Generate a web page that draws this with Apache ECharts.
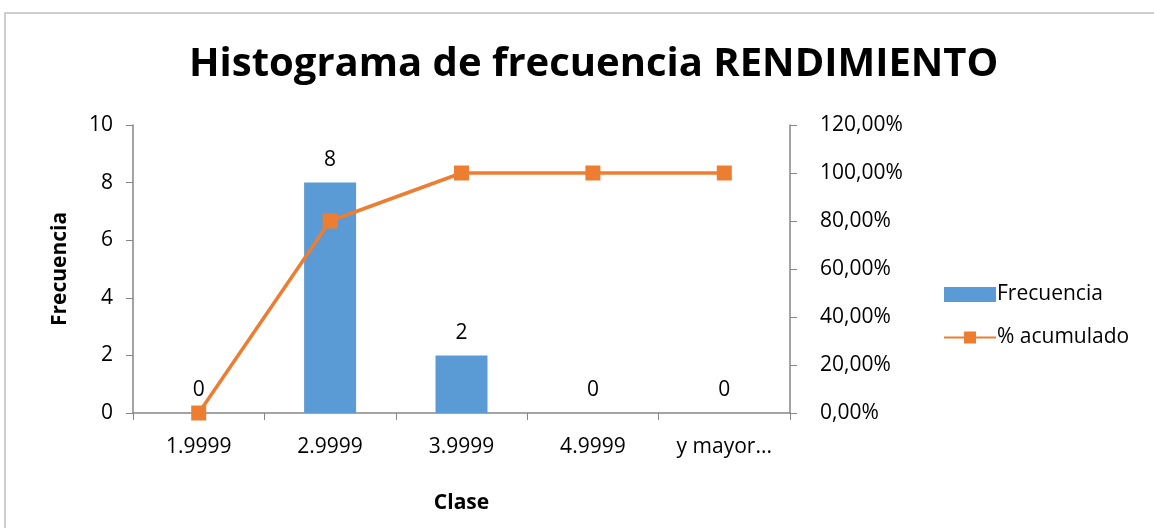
<!DOCTYPE html>
<html>
<head>
<meta charset="utf-8">
<script src="https://cdn.jsdelivr.net/npm/echarts@6/dist/echarts.min.js"></script>
<style>
  html, body { margin: 0; padding: 0; background: #fff; }
  #chart { width: 1154px; height: 528px; }
</style>
</head>
<body>
<div id="chart"></div>
<script>
// datos del histograma
var clases = ['1.9999', '2.9999', '3.9999', '4.9999', 'y mayor...'];
var frecuencia = [0, 8, 2, 0, 0];
var acumulado = [0, 0.8, 1, 1, 1];

var fuente = 'Open Sans';
var gris = '#868686';
var tam = 21;

var myChart = echarts.init(document.getElementById('chart'));

var option = {
    animation: false,
    textStyle: { fontFamily: fuente, color: '#000' },
    graphic: [{
        type: 'rect',
        shape: { x: 5, y: 13, width: 1300, height: 700 },
        style: { fill: 'none', stroke: '#bfbfbf', lineWidth: 1.5 }
    }],
    title: {
        text: 'Histograma de frecuencia RENDIMIENTO',
        left: 184,
        top: 40,
        textStyle: { fontFamily: fuente, fontWeight: 'bold', fontSize: 40, color: '#000' }
    },
    legend: {
        orient: 'vertical',
        left: 938,
        top: 279,
        itemGap: 22,
        itemWidth: 52,
        itemHeight: 15,
        textStyle: { fontSize: tam, color: '#000', padding: [0, 0, 0, -4] },
        data: [
            { name: 'Frecuencia', icon: 'rect' },
            { name: '% acumulado' }
        ]
    },
    grid: { left: 133, right: 364, top: 125, bottom: 115 },
    xAxis: {
        type: 'category',
        data: clases,
        name: 'Clase',
        nameLocation: 'middle',
        nameGap: 80,
        nameTextStyle: { fontWeight: 'bold', fontSize: tam, color: '#000' },
        axisLine: { lineStyle: { color: gris, width: 1.5 } },
        axisTick: { show: true, alignWithLabel: false, length: 7, lineStyle: { color: gris } },
        axisLabel: { fontSize: tam, color: '#000', margin: 24 }
    },
    yAxis: [{
        type: 'value',
        min: 0, max: 10, interval: 2,
        name: 'Frecuencia',
        nameLocation: 'middle',
        nameGap: 62,
        nameTextStyle: { fontWeight: 'bold', fontSize: tam, color: '#000' },
        axisLine: { show: true, lineStyle: { color: gris, width: 1.5 } },
        axisTick: { show: true, length: 7, lineStyle: { color: gris } },
        axisLabel: { fontSize: tam, color: '#000', margin: 20 },
        splitLine: { show: false }
    }, {
        type: 'value',
        min: 0, max: 1.2, interval: 0.2,
        position: 'right',
        axisLine: { show: true, lineStyle: { color: gris, width: 1.5 } },
        axisTick: { show: true, length: 7, lineStyle: { color: gris } },
        axisLabel: {
            fontSize: tam, color: '#000', margin: 30,
            formatter: function (v) { return (v * 100).toFixed(2).replace('.', ',') + '%'; }
        },
        splitLine: { show: false }
    }],
    series: [{
        name: 'Frecuencia',
        type: 'bar',
        data: frecuencia,
        barWidth: 52,
        itemStyle: { color: '#5B9BD5' },
        label: { show: true, position: 'top', distance: 12, fontSize: tam, color: '#000' }
    }, {
        name: '% acumulado',
        type: 'line',
        yAxisIndex: 1,
        data: acumulado,
        symbol: 'rect',
        symbolSize: 15,
        lineStyle: { color: '#ED7D31', width: 3.5 },
        itemStyle: { color: '#ED7D31' },
        z: 3
    }]
};

myChart.setOption(option);
</script>
</body>
</html>
